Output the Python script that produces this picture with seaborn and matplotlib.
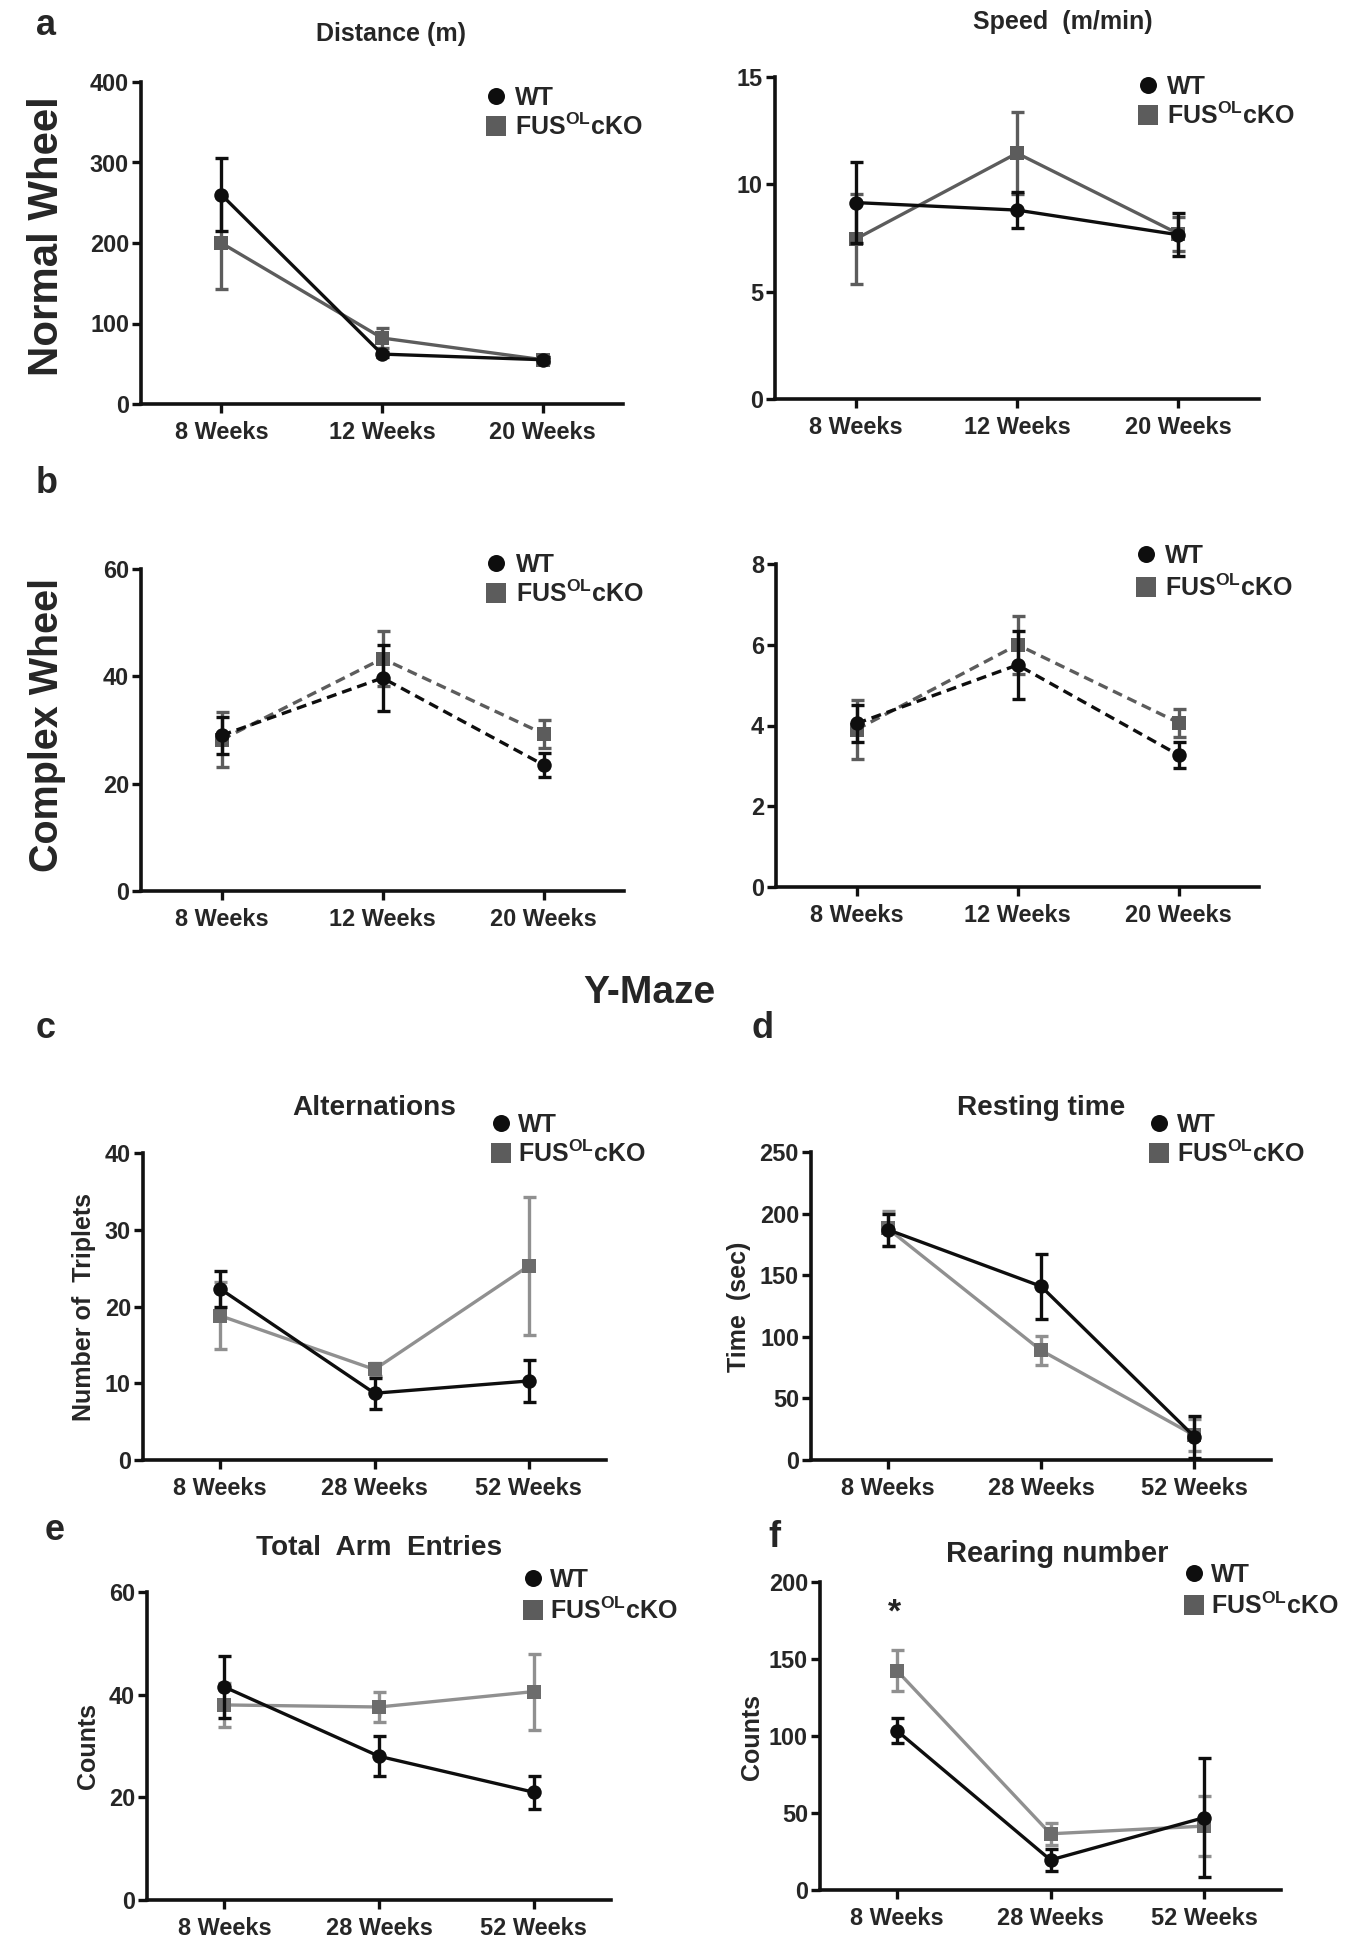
import numpy as np
import pandas as pd
import matplotlib
matplotlib.use("Agg")
import matplotlib.pyplot as plt
import seaborn as sns
from matplotlib.lines import Line2D

# ---------------- data ----------------
weeks_ab = ["8 Weeks", "12 Weeks", "20 Weeks"]
weeks_cf = ["8 Weeks", "28 Weeks", "52 Weeks"]

dist_wt = [260, 62, 55]
dist_wt_err = [45, 3, 3]
dist_ko = [200, 82, 55]
dist_ko_err = [57, 13, 4]

speed_wt = [9.15, 8.8, 7.65]
speed_wt_err = [1.9, 0.85, 1.0]
speed_ko = [7.45, 11.45, 7.7]
speed_ko_err = [2.1, 1.9, 0.8]

cdist_wt = [29.0, 39.7, 23.5]
cdist_wt_err = [3.4, 6.2, 2.3]
cdist_ko = [28.2, 43.3, 29.3]
cdist_ko_err = [5.1, 5.1, 2.6]

cspeed_wt = [4.05, 5.5, 3.27]
cspeed_wt_err = [0.47, 0.85, 0.33]
cspeed_ko = [3.9, 6.0, 4.07]
cspeed_ko_err = [0.72, 0.72, 0.35]

alt_wt = [22.3, 8.7, 10.3]
alt_wt_err = [2.3, 2.0, 2.7]
alt_ko = [18.8, 11.8, 25.3]
alt_ko_err = [4.4, 0.9, 9.0]

rest_wt = [187, 141, 19]
rest_wt_err = [13, 26.5, 17]
rest_ko = [188, 89, 20]
rest_ko_err = [14, 12, 13]

arm_wt = [41.5, 28.0, 21.0]
arm_wt_err = [6.0, 3.9, 3.2]
arm_ko = [38.0, 37.6, 40.6]
arm_ko_err = [4.3, 3.0, 7.4]

rear_wt = [103.5, 19.5, 47]
rear_wt_err = [8.2, 7, 38.5]
rear_ko = [142.5, 36.5, 41.5]
rear_ko_err = [13.4, 7.2, 19.3]

yticks_dist = [0, 100, 200, 300, 400]
yticks_speed = [0, 5, 10, 15]
yticks_cdist = [0, 20, 40, 60]
yticks_cspeed = [0, 2, 4, 6, 8]
yticks_alt = [0, 10, 20, 30, 40]
yticks_rest = [0, 50, 100, 150, 200, 250]
yticks_arm = [0, 20, 40, 60]
yticks_rear = [0, 50, 100, 150, 200]

# ---------------- style ----------------
sns.set_style("ticks")
plt.rcParams["font.family"] = ["Liberation Sans", "DejaVu Sans"]
plt.rcParams["font.weight"] = "bold"
plt.rcParams["mathtext.fontset"] = "custom"
plt.rcParams["mathtext.rm"] = "Liberation Sans:bold"
plt.rcParams["mathtext.bf"] = "Liberation Sans:bold"
plt.rcParams["mathtext.it"] = "Liberation Sans:bold"

W, H = 1362, 1950
fig = plt.figure(figsize=(W / 100, H / 100), dpi=100)
fig.patch.set_facecolor("white")

WT_C = "#0e0e0e"
KO_DARK = "#5c5c5c"
KO_LINE_LIGHT = "#909090"
KO_MARK_LIGHT = "#6c6c6c"


def px(v):
    return v * 0.72


def add_ax(l, t, r, b):
    return fig.add_axes([l / W, 1 - b / H, (r - l) / W, (b - t) / H])


def draw_series(ax, mean, err, color, mcolor, ecolor, marker, ms, ls, z):
    df = pd.DataFrame({"x": np.arange(len(mean)), "y": mean})
    ax.errorbar(df["x"], df["y"], yerr=err, fmt="none", ecolor=ecolor,
                elinewidth=2.4, capsize=px(6.5), capthick=2.4, zorder=z)
    sns.lineplot(data=df, x="x", y="y", ax=ax, color=color, lw=2.4,
                 linestyle=ls, marker=marker, markersize=px(ms),
                 markerfacecolor=mcolor, markeredgecolor=mcolor,
                 markeredgewidth=0, errorbar=None, legend=False, zorder=z + 1)


def style_ax(ax, cats, yticks):
    ax.set_xlim(-0.5, len(cats) - 0.5)
    ax.set_ylim(yticks[0], yticks[-1])
    ax.set_xticks(range(len(cats)))
    ax.set_xticklabels(cats)
    ax.set_yticks(yticks)
    ax.set_xlabel("")
    ax.set_ylabel("")
    sns.despine(ax=ax)
    for s in ("left", "bottom"):
        ax.spines[s].set_linewidth(2.6)
        ax.spines[s].set_color("#111111")
    ax.tick_params(axis="both", length=px(9), width=2.4, color="#111111",
                   labelsize=px(23.5), pad=px(3))
    ax.tick_params(axis="x", pad=px(8))
    for lab in ax.get_xticklabels() + ax.get_yticklabels():
        lab.set_fontweight("bold")
    ax.set_facecolor("none")


def legend_at(mx, y1, y2, tx):
    fig.add_artist(Line2D([mx / W], [1 - y1 / H], marker="o", ms=px(17),
                          color=WT_C, mew=0, ls="none",
                          transform=fig.transFigure))
    fig.add_artist(Line2D([mx / W], [1 - y2 / H], marker="s", ms=px(20),
                          color=KO_DARK, mew=0, ls="none",
                          transform=fig.transFigure))
    fig.text(tx / W, 1 - (y1 + 9) / H, "WT", fontsize=px(25),
             fontweight="bold", va="baseline", ha="left")
    fig.text(tx / W, 1 - (y2 + 9) / H, r"FUS$^{\mathrm{OL}}$cKO",
             fontsize=px(25), fontweight="bold", va="baseline", ha="left")


panels = [
    # (box l,t,r,b), cats, yticks, wt, wt_err, ko, ko_err, dashed, light, legend
    ((141, 82, 623, 404), weeks_ab, yticks_dist, dist_wt, dist_wt_err,
     dist_ko, dist_ko_err, False, False, (496, 96, 126, 515)),
    ((775, 77, 1259, 399), weeks_ab, yticks_speed, speed_wt, speed_wt_err,
     speed_ko, speed_ko_err, False, False, (1148, 85, 115, 1167)),
    ((141, 569, 624, 891), weeks_ab, yticks_cdist, cdist_wt, cdist_wt_err,
     cdist_ko, cdist_ko_err, True, False, (496, 563, 593, 516)),
    ((776, 564, 1259, 887), weeks_ab, yticks_cspeed, cspeed_wt,
     cspeed_wt_err, cspeed_ko, cspeed_ko_err, True, False,
     (1146, 554, 587, 1165)),
    ((143, 1153, 606, 1460), weeks_cf, yticks_alt, alt_wt, alt_wt_err,
     alt_ko, alt_ko_err, False, True, (501, 1123, 1153, 518)),
    ((811, 1152, 1271, 1460), weeks_cf, yticks_rest, rest_wt, rest_wt_err,
     rest_ko, rest_ko_err, False, True, (1159, 1123, 1153, 1177)),
    ((147, 1592, 611, 1900), weeks_cf, yticks_arm, arm_wt, arm_wt_err,
     arm_ko, arm_ko_err, False, True, (533, 1578, 1610, 550)),
    ((820, 1582, 1281, 1890), weeks_cf, yticks_rear, rear_wt, rear_wt_err,
     rear_ko, rear_ko_err, False, True, (1194, 1573, 1605, 1211)),
]

for box, cats, yt, wt, wte, ko, koe, dashed, light, leg in panels:
    ax = add_ax(*box)
    ls = (0, (3.0, 1.8)) if dashed else "-"
    ko_line = KO_LINE_LIGHT if light else KO_DARK
    ko_mark = KO_MARK_LIGHT if light else KO_DARK
    ko_err = KO_LINE_LIGHT if light else KO_DARK
    draw_series(ax, ko, koe, ko_line, ko_mark, ko_err, "s", 14.5, ls, 3)
    draw_series(ax, wt, wte, WT_C, WT_C, WT_C, "o", 14.5, ls, 5)
    style_ax(ax, cats, yt)
    legend_at(*leg)

# ---------------- texts ----------------
def ftext(x, y, s, size, **kw):
    kw.setdefault("ha", "center")
    kw.setdefault("va", "baseline")
    fig.text(x / W, 1 - y / H, s, fontsize=px(size), fontweight="bold", **kw)

ftext(46, 35, "a", 36)
ftext(391, 41, "Distance (m)", 25)
ftext(1063, 29, "Speed  (m/min)", 25)
ftext(47, 236, "Normal Wheel", 42, rotation=90, va="center")
ftext(47, 493, "b", 36)
ftext(47, 725, "Complex Wheel", 39.5, rotation=90, va="center")
ftext(649, 1003, "Y-Maze", 39)
ftext(46, 1038, "c", 36)
ftext(763, 1038, "d", 36)
ftext(374, 1115, "Alternations", 28)
ftext(1041, 1115, "Resting time", 28)
ftext(84, 1307, "Number of  Triplets", 25, rotation=90, va="center")
ftext(739, 1307, "Time  (sec)", 25, rotation=90, va="center")
ftext(55, 1540, "e", 36)
ftext(379, 1555, "Total  Arm  Entries", 28)
ftext(88, 1746, "Counts", 25, rotation=90, va="center")
ftext(774, 1547, "f", 36)
ftext(1057, 1562, "Rearing number", 29)
ftext(752, 1737, "Counts", 25, rotation=90, va="center")
ftext(895, 1622, "*", 34)

fig.savefig("out.png", dpi=100, facecolor="white")
